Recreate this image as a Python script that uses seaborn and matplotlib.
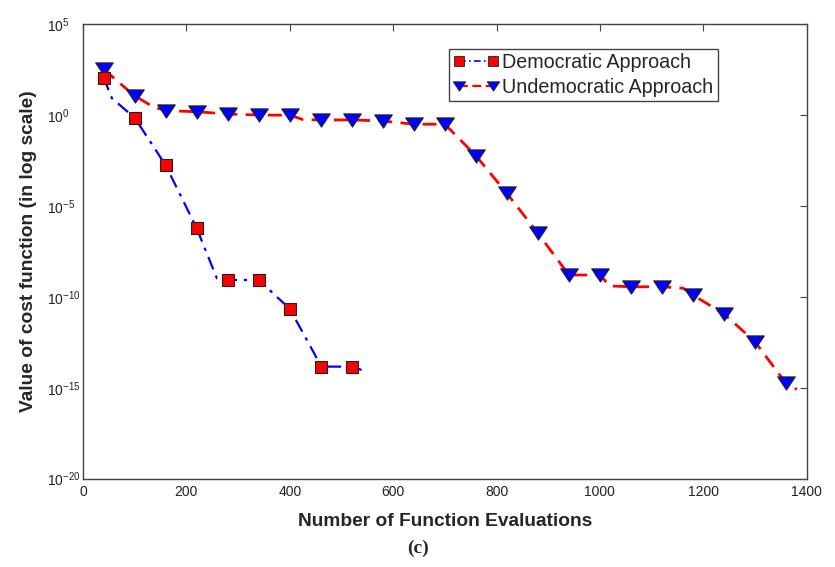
import numpy as np
import matplotlib
matplotlib.use("Agg")
import matplotlib.pyplot as plt
from matplotlib.lines import Line2D
from matplotlib.path import Path
import seaborn as sns

# ---------------------------------------------------------
# data (cost values, log scale)
# ---------------------------------------------------------
# democratic: full line (with kinks) + marker subset
demo_line_x = [40, 56, 100, 160, 220, 259, 280, 340, 400, 449, 460, 520, 539]
demo_line_y = [115, 8.5, 0.72, 1.74e-3, 6.0e-7, 1.05e-9, 8.5e-10, 8.5e-10,
               2.2e-11, 6.3e-14, 1.45e-14, 1.45e-14, 9.5e-15]
demo_mark_x = [40, 100, 160, 220, 280, 340, 400, 460, 520]
demo_mark_y = [115, 0.72, 1.74e-3, 6.0e-7, 8.5e-10, 8.5e-10, 2.2e-11,
               1.45e-14, 1.45e-14]

# undemocratic
undemo_line_x = [40, 100, 136, 160, 220, 280, 340, 400, 425, 460, 520, 580,
                 640, 700, 760, 820, 880, 940, 1000, 1019, 1060, 1120, 1161,
                 1180, 1240, 1300, 1360, 1381]
undemo_line_y = [340, 11.4, 2.9, 1.8, 1.55, 1.17, 1.02, 1.0, 0.58, 0.55,
                 0.55, 0.48, 0.32, 0.32, 5.9e-3, 5.0e-5, 3.2e-7, 1.6e-9,
                 1.6e-9, 4.0e-10, 3.6e-10, 3.6e-10, 3.0e-10, 1.26e-10,
                 1.15e-11, 3.4e-13, 1.74e-15, 8.1e-16]
undemo_mark_x = [40, 100, 160, 220, 280, 340, 400, 460, 520, 580, 640, 700,
                 760, 820, 880, 940, 1000, 1060, 1120, 1180, 1240, 1300, 1360]
undemo_mark_y = [340, 11.4, 1.8, 1.55, 1.17, 1.02, 1.0, 0.55, 0.55, 0.48,
                 0.32, 0.32, 5.9e-3, 5.0e-5, 3.2e-7, 1.6e-9, 1.6e-9, 3.6e-10,
                 3.6e-10, 1.26e-10, 1.15e-11, 3.4e-13, 1.74e-15]

legend_labels = ["Democratic Approach", "Undemocratic Approach"]
x_ticks = [0, 200, 400, 600, 800, 1000, 1200, 1400]
y_ticks = [1e5, 1e0, 1e-5, 1e-10, 1e-15, 1e-20]

sns.set_style("white")
plt.rcParams["font.family"] = ["Liberation Sans", "DejaVu Sans"]
plt.rcParams["mathtext.fontset"] = "custom"
plt.rcParams["mathtext.rm"] = "Liberation Sans"
plt.rcParams["mathtext.it"] = "Liberation Sans:italic"
plt.rcParams["mathtext.bf"] = "Liberation Sans:bold"
plt.rcParams["axes.unicode_minus"] = False

fig = plt.figure(figsize=(8.35, 5.67), dpi=100)
ax = fig.add_axes([0.0994, 0.156, 0.8667, 0.801])

edge = "#222222"
# slightly flattened downward triangle, like the matlab one
tri = Path([(-1, 0.75), (1, 0.75), (0, -0.75), (-1, 0.75)],
           [Path.MOVETO, Path.LINETO, Path.LINETO, Path.CLOSEPOLY])

# undemocratic (red dashed, blue triangles)
sns.lineplot(x=undemo_line_x, y=undemo_line_y, ax=ax, color="#ff0000",
             linewidth=2.0, linestyle=(0, (5, 3)), zorder=2)
sns.scatterplot(x=undemo_mark_x, y=undemo_mark_y, ax=ax, marker=tri,
                s=160, color="#0000ff", edgecolor=edge, linewidth=0.8,
                zorder=3)

# democratic (blue dash-dot, red squares) drawn on top
sns.lineplot(x=demo_line_x, y=demo_line_y, ax=ax, color="#0000ff",
             linewidth=1.6, linestyle=(0, (6, 3, 1.5, 3)), zorder=4)
sns.scatterplot(x=demo_mark_x, y=demo_mark_y, ax=ax, marker="s",
                s=85, color="#ff0000", edgecolor=edge, linewidth=0.8,
                zorder=5)

ax.set_yscale("log")
ax.set_xlim(0, 1400)
ax.set_ylim(1e-20, 1e5)
ax.set_xticks(x_ticks)
ax.set_yticks(y_ticks)
ax.yaxis.set_minor_locator(matplotlib.ticker.NullLocator())

for s in ax.spines.values():
    s.set_color("#444444")
    s.set_linewidth(1.0)
ax.tick_params(axis="both", which="major", direction="in", length=5,
               width=0.8, color="#444444", top=True, right=True,
               labelsize=10, labelcolor="#222222")
ax.tick_params(axis="x", pad=5)
ax.tick_params(axis="y", pad=26)
for lab in ax.get_yticklabels():
    lab.set_horizontalalignment("left")

ax.set_xlabel("Number of Function Evaluations", fontsize=13.8,
              fontweight="bold")
ax.set_ylabel("Value of cost function (in log scale)", fontsize=13.8,
              fontweight="bold")
ax.xaxis.set_label_coords(0.5, -0.076)
ax.yaxis.set_label_coords(-0.064, 0.5)

handles = [
    Line2D([], [], color="#0000ff", linewidth=1.2, linestyle=(0, (4, 2, 1, 2)),
           marker="s", markersize=6.5, markerfacecolor="#ff0000",
           markeredgecolor=edge, markeredgewidth=0.6),
    Line2D([], [], color="#ff0000", linewidth=1.6, linestyle=(0, (4, 2)),
           marker=tri, markersize=9, markerfacecolor="#0000ff",
           markeredgecolor=edge, markeredgewidth=0.6),
]
leg = ax.legend(handles, legend_labels, loc="upper left",
                bbox_to_anchor=(0.506, 0.946), fontsize=14.2, numpoints=2,
                frameon=True, fancybox=False, edgecolor="#444444",
                framealpha=1, borderpad=0.2, labelspacing=0.3,
                handlelength=2.3, handletextpad=0.2, borderaxespad=0)
leg.get_frame().set_linewidth(1.0)

fig.text(0.5, 0.0335, "(c)", ha="center", va="center", fontsize=14,
         fontweight="bold", family=["Liberation Serif", "DejaVu Serif"])

fig.savefig("out.png", dpi=100)
